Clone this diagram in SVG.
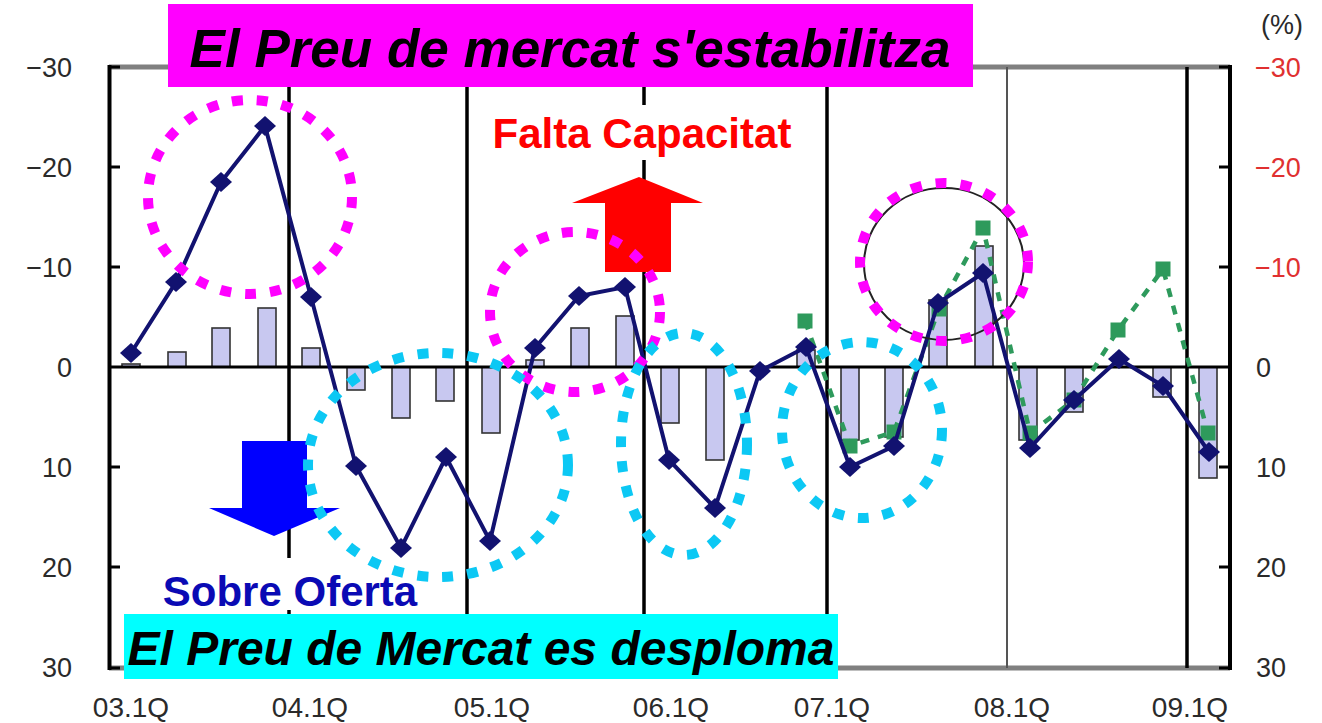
<svg xmlns="http://www.w3.org/2000/svg" xmlns:xlink="http://www.w3.org/1999/xlink" width="1322" height="723" viewBox="0 0 1322 723">
<defs>
<style>
.ax{font-family:"Liberation Sans",Arial,sans-serif;font-size:27px;fill:#2a2a2a}
.axr{font-family:"Liberation Sans",Arial,sans-serif;font-size:27px;fill:#e03030}
.xl{font-family:"Liberation Sans",Arial,sans-serif;font-size:28px;fill:#2a2a2a}
.bar{fill:#c8c8f0;stroke:#333;stroke-width:1.6}
.yl{stroke:#000;stroke-width:3.5}
.mag{fill:none;stroke:#ff00ff;stroke-width:10;stroke-dasharray:11 14}
.cy{fill:none;stroke:#0cc8f4;stroke-width:10;stroke-dasharray:11 14}
.ttl{font-family:"Liberation Sans",Arial,sans-serif;font-weight:bold;font-style:italic;fill:#000}
.lbl{font-family:"Liberation Sans",Arial,sans-serif;font-weight:bold}
</style>
<path id="dia" d="M0,-10 L11,0 L0,10 L-11,0 Z" fill="#121270"/>
<rect id="sq" x="-7.5" y="-7.5" width="15" height="15" fill="#2e9a5c"/>
</defs>
<rect width="1322" height="723" fill="#fff"/>

<g id="frame">
<line x1="109" y1="67" x2="1230" y2="67" stroke="#808080" stroke-width="5"/>
<line x1="109" y1="668" x2="1230" y2="668" stroke="#808080" stroke-width="5"/>
<line class="yl" x1="289" y1="67" x2="289" y2="668"/>
<line class="yl" x1="467" y1="67" x2="467" y2="668"/>
<line class="yl" x1="644" y1="67" x2="644" y2="668"/>
<line class="yl" x1="827" y1="67" x2="827" y2="668"/>
<line x1="1007" y1="67" x2="1007" y2="668" stroke="#555" stroke-width="2"/>
<line class="yl" x1="1187" y1="67" x2="1187" y2="668"/>
<line x1="109.5" y1="65" x2="109.5" y2="670" stroke="#000" stroke-width="4"/>
<line x1="1230" y1="65" x2="1230" y2="670" stroke="#000" stroke-width="4"/>
<path d="M109,67h11M109,167h11M109,267h11M109,467h11M109,567h11M109,668h11M1230,67h-11M1230,167h-11M1230,267h-11M1230,467h-11M1230,567h-11M1230,668h-11" stroke="#000" stroke-width="3"/>
</g>

<g id="axis-left">
<text class="ax" x="72" y="77" text-anchor="end">−30</text>
<text class="ax" x="72" y="177" text-anchor="end">−20</text>
<text class="ax" x="72" y="277" text-anchor="end">−10</text>
<text class="ax" x="72" y="377" text-anchor="end">0</text>
<text class="ax" x="72" y="477" text-anchor="end">10</text>
<text class="ax" x="72" y="577" text-anchor="end">20</text>
<text class="ax" x="72" y="677" text-anchor="end">30</text>
</g>
<g id="axis-right">
<text class="ax" x="1261" y="34">(%)</text>
<text class="axr" x="1255" y="77">−30</text>
<text class="axr" x="1255" y="177">−20</text>
<text class="axr" x="1255" y="277">−10</text>
<text class="ax" x="1256" y="377">0</text>
<text class="ax" x="1256" y="477">10</text>
<text class="ax" x="1256" y="577">20</text>
<text class="ax" x="1256" y="677">30</text>
</g>
<g id="axis-bottom">
<text class="xl" x="131" y="717" text-anchor="middle">03.1Q</text>
<text class="xl" x="310" y="717" text-anchor="middle">04.1Q</text>
<text class="xl" x="492" y="717" text-anchor="middle">05.1Q</text>
<text class="xl" x="671" y="717" text-anchor="middle">06.1Q</text>
<text class="xl" x="832" y="717" text-anchor="middle">07.1Q</text>
<text class="xl" x="1012" y="717" text-anchor="middle">08.1Q</text>
<text class="xl" x="1190" y="717" text-anchor="middle">09.1Q</text>
</g>

<g id="bars">
<rect class="bar" x="122" y="364" width="18" height="3"/>
<rect class="bar" x="168" y="352" width="18" height="15"/>
<rect class="bar" x="212" y="328" width="18" height="39"/>
<rect class="bar" x="258" y="308" width="18" height="59"/>
<rect class="bar" x="302" y="348" width="18" height="19"/>
<rect class="bar" x="347" y="367" width="18" height="23"/>
<rect class="bar" x="392" y="367" width="18" height="51"/>
<rect class="bar" x="436" y="367" width="18" height="34"/>
<rect class="bar" x="482" y="367" width="18" height="66"/>
<rect class="bar" x="526" y="360" width="18" height="7"/>
<rect class="bar" x="571" y="328" width="18" height="39"/>
<rect class="bar" x="616" y="316" width="18" height="51"/>
<rect class="bar" x="661" y="367" width="18" height="56"/>
<rect class="bar" x="706" y="367" width="18" height="93"/>
<rect class="bar" x="797" y="350" width="18" height="17"/>
<rect class="bar" x="841" y="367" width="18" height="73"/>
<rect class="bar" x="885" y="367" width="18" height="70"/>
<rect class="bar" x="929" y="300" width="18" height="67"/>
<rect class="bar" x="975" y="246" width="18" height="121"/>
<rect class="bar" x="1019" y="367" width="18" height="73"/>
<rect class="bar" x="1065" y="367" width="18" height="45"/>
<rect class="bar" x="1153" y="367" width="18" height="30"/>
<rect class="bar" x="1199" y="367" width="18" height="111"/>
</g>

<line id="zero-line" x1="109" y1="367" x2="1230" y2="367" stroke="#000" stroke-width="3"/>

<g id="series-green">
<polyline points="805,321 850,446 894,432 939,309 983,228 1030,433 1074,400 1118,330 1163,269 1208,433" fill="none" stroke="#2e9a5c" stroke-width="4.5" stroke-dasharray="9 9"/>
<use xlink:href="#sq" x="805" y="321"/><use xlink:href="#sq" x="850" y="446"/><use xlink:href="#sq" x="894" y="432"/><use xlink:href="#sq" x="939" y="309"/><use xlink:href="#sq" x="983" y="228"/><use xlink:href="#sq" x="1030" y="433"/><use xlink:href="#sq" x="1074" y="400"/><use xlink:href="#sq" x="1118" y="330"/><use xlink:href="#sq" x="1163" y="269"/><use xlink:href="#sq" x="1208" y="433"/>
</g>

<g id="series-navy">
<polyline points="131,353 176,282 221,182 265,126 311,297 356,466 401,548 446,457 490,541 535,348 579,296 625,287 669,460 715,508 760,371 806,347 850,467 894,446 938,303 983,273 1030,448 1074,400 1119,359 1163,386 1209,452" fill="none" stroke="#121270" stroke-width="4"/>
<use xlink:href="#dia" x="131" y="353"/><use xlink:href="#dia" x="176" y="282"/><use xlink:href="#dia" x="221" y="182"/><use xlink:href="#dia" x="265" y="126"/><use xlink:href="#dia" x="311" y="297"/><use xlink:href="#dia" x="356" y="466"/><use xlink:href="#dia" x="401" y="548"/><use xlink:href="#dia" x="446" y="457"/><use xlink:href="#dia" x="490" y="541"/><use xlink:href="#dia" x="535" y="348"/><use xlink:href="#dia" x="579" y="296"/><use xlink:href="#dia" x="625" y="287"/><use xlink:href="#dia" x="669" y="460"/><use xlink:href="#dia" x="715" y="508"/><use xlink:href="#dia" x="760" y="371"/><use xlink:href="#dia" x="806" y="347"/><use xlink:href="#dia" x="850" y="467"/><use xlink:href="#dia" x="894" y="446"/><use xlink:href="#dia" x="938" y="303"/><use xlink:href="#dia" x="983" y="273"/><use xlink:href="#dia" x="1030" y="448"/><use xlink:href="#dia" x="1074" y="400"/><use xlink:href="#dia" x="1119" y="359"/><use xlink:href="#dia" x="1163" y="386"/><use xlink:href="#dia" x="1209" y="452"/>
</g>

<g id="label-falta">
<rect x="485" y="105" width="314" height="55" fill="#fff"/>
<text class="lbl" x="642" y="148" text-anchor="middle" font-size="42" fill="#ff0000">Falta Capacitat</text>
</g>
<g id="arrow-up">
<polygon points="605,272 671,272 671,203 703,203 639,177 572,203 605,203" fill="#ff0000"/>
</g>
<g id="arrow-down">
<polygon points="242,441 307,441 307,508 340,508 274,536 209,508 242,508" fill="#0000ff"/>
</g>
<g id="label-sobre">
<rect x="156" y="558" width="268" height="52" fill="#fff"/>
<text class="lbl" x="290" y="606" text-anchor="middle" font-size="42" fill="#0a0ab4">Sobre Oferta</text>
</g>

<g id="circles">
<ellipse cx="944" cy="264" rx="80" ry="76" fill="none" stroke="#222" stroke-width="2"/>
<ellipse class="mag" cx="250" cy="197" rx="102" ry="97"/>
<ellipse class="mag" cx="575" cy="312" rx="85" ry="80"/>
<ellipse class="mag" cx="944" cy="262" rx="84" ry="79"/>
<ellipse class="cy" cx="438" cy="465" rx="130" ry="112"/>
<ellipse class="cy" cx="684" cy="444" rx="63" ry="111"/>
<ellipse class="cy" cx="862" cy="430" rx="80" ry="88"/>
</g>

<g id="title-top">
<rect x="168" y="4" width="805" height="83" fill="#ff00ff"/>
<text class="ttl" x="570" y="67" text-anchor="middle" font-size="53">El Preu de mercat s'estabilitza</text>
</g>
<g id="title-bottom">
<rect x="124" y="614" width="714" height="65" fill="#00ffff"/>
<text class="ttl" x="481" y="665" text-anchor="middle" font-size="48">El Preu de Mercat es desploma</text>
</g>
</svg>
